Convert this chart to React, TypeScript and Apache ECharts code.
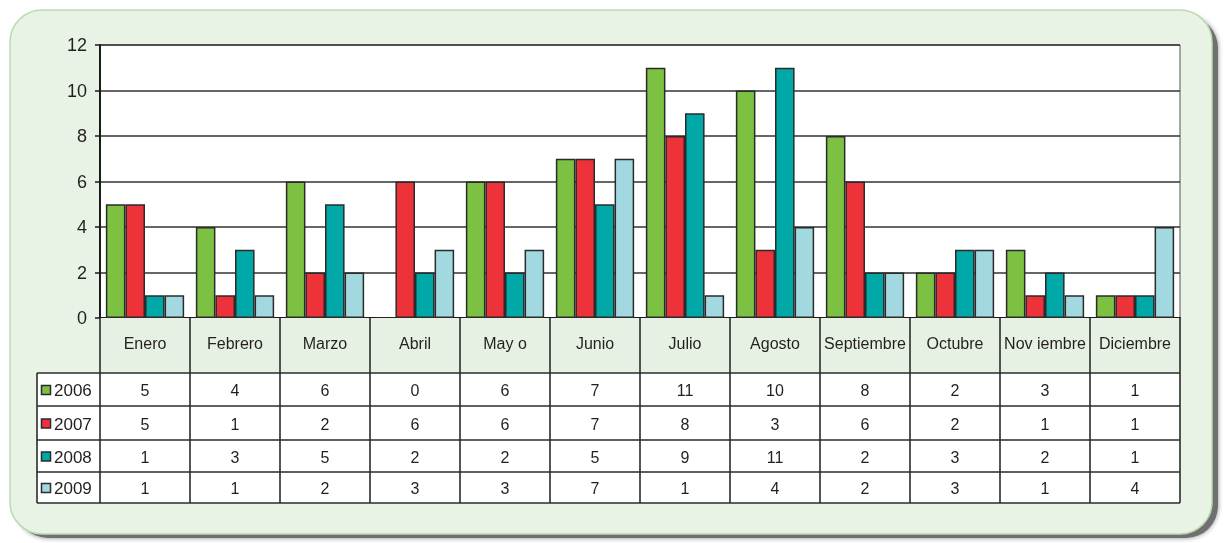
import React, { useEffect, useRef } from "react";
import * as echarts from "echarts";

const categories = ["Enero", "Febrero", "Marzo", "Abril", "May o", "Junio", "Julio", "Agosto", "Septiembre", "Octubre", "Nov iembre", "Diciembre"];
const seriesNames = ["2006", "2007", "2008", "2009"];
const v2006 = [5, 4, 6, 0, 6, 7, 11, 10, 8, 2, 3, 1];
const v2007 = [5, 1, 2, 6, 6, 7, 8, 3, 6, 2, 1, 1];
const v2008 = [1, 3, 5, 2, 2, 5, 9, 11, 2, 3, 2, 1];
const v2009 = [1, 1, 2, 3, 3, 7, 1, 4, 2, 3, 1, 4];
const yTicks = [0, 2, 4, 6, 8, 10, 12];
const colors = ["#7dc142", "#ee3239", "#00a9a7", "#a2d9e1"];

const FONT = "'Liberation Sans', Arial, sans-serif";
const TXT = "#231f20";

export default function App() {
  const ref = useRef<HTMLDivElement>(null);
  useEffect(() => {
    if (!ref.current) return;
    const chart = echarts.init(ref.current, undefined, { renderer: "svg" });
    const allVals = [v2006, v2007, v2008, v2009];
    const gl = 100, gt = 45, gw = 1080, gh = 273;
    const colW = gw / categories.length;
    const rowsY = [318, 373, 406, 440, 472, 503];
    const tableLeft = 37;
    const right = gl + gw;
    const lineStyle = { stroke: "#2b2b2b", lineWidth: 1.6 };
    const g: any[] = [];
    // panel shadow + panel
    g.push({ type: "rect", z: -20, silent: true, shape: { x: 16, y: 16, width: 1202, height: 522, r: 32 }, style: { fill: "#6f6f6f", shadowBlur: 5, shadowColor: "rgba(0,0,0,0.45)" } });
    g.push({ type: "rect", z: -10, silent: true, shape: { x: 10, y: 10, width: 1202, height: 524, r: 32 }, style: { fill: "#e8f2e5", stroke: "#b9dbb0", lineWidth: 1.5 } });
    // header row fill and data rows fill
    g.push({ type: "rect", z: 50, silent: true, shape: { x: gl, y: rowsY[0], width: gw, height: rowsY[1] - rowsY[0] }, style: { fill: "#e6f0e3" } });
    g.push({ type: "rect", z: 50, silent: true, shape: { x: tableLeft, y: rowsY[1], width: right - tableLeft, height: rowsY[5] - rowsY[1] }, style: { fill: "#ffffff" } });
    // horizontal lines
    for (let i = 1; i < rowsY.length; i++) {
      g.push({ type: "line", z: 60, silent: true, shape: { x1: tableLeft, y1: rowsY[i], x2: right, y2: rowsY[i] }, style: lineStyle });
    }
    // vertical lines
    g.push({ type: "line", z: 60, silent: true, shape: { x1: tableLeft, y1: rowsY[1], x2: tableLeft, y2: rowsY[5] }, style: lineStyle });
    for (let k = 0; k <= categories.length; k++) {
      const x = gl + colW * k;
      g.push({ type: "line", z: 60, silent: true, shape: { x1: x, y1: rowsY[0], x2: x, y2: rowsY[5] }, style: lineStyle });
    }
    // header labels
    categories.forEach((c, i) => {
      g.push({ type: "text", z: 70, silent: true, x: gl + colW * i + colW / 2, y: (rowsY[0] + rowsY[1]) / 2 - 2, style: { text: c, fill: TXT, font: `16px ${FONT}`, align: "center", verticalAlign: "middle" } });
    });
    // rows
    seriesNames.forEach((name, r) => {
      const cy = (rowsY[r + 1] + rowsY[r + 2]) / 2 + 1;
      g.push({ type: "rect", z: 70, silent: true, shape: { x: tableLeft + 4.5, y: cy - 5, width: 9, height: 9 }, style: { fill: colors[r], stroke: "#2b2b2b", lineWidth: 1.5 } });
      g.push({ type: "text", z: 70, silent: true, x: tableLeft + 17, y: cy, style: { text: name, fill: TXT, font: `17px ${FONT}`, align: "left", verticalAlign: "middle" } });
      allVals[r].forEach((v, i) => {
        g.push({ type: "text", z: 70, silent: true, x: gl + colW * i + colW / 2, y: cy, style: { text: String(v), fill: TXT, font: `16px ${FONT}`, align: "center", verticalAlign: "middle" } });
      });
    });

    chart.setOption({
      animation: false,
      textStyle: { fontFamily: FONT },
      grid: { left: gl, top: gt, width: gw, height: gh, show: true, backgroundColor: "#ffffff", borderColor: "#555", borderWidth: 1 },
      xAxis: {
        type: "category",
        data: categories,
        axisLine: { show: true, lineStyle: { color: "#1a1a1a", width: 2 } },
        axisTick: { show: false },
        axisLabel: { show: false },
        splitLine: { show: false },
      },
      yAxis: {
        type: "value",
        min: yTicks[0],
        max: yTicks[yTicks.length - 1],
        interval: 2,
        axisLine: { show: true, lineStyle: { color: "#1a1a1a", width: 2 } },
        axisTick: { show: true, length: 5, lineStyle: { color: "#1a1a1a", width: 1.5 } },
        axisLabel: { color: TXT, fontSize: 18, fontFamily: FONT, margin: 13 },
        splitLine: { show: true, lineStyle: { color: "#333", width: 1.5 } },
      },
      series: seriesNames.map((name, r) => ({
        type: "bar",
        name,
        data: allVals[r],
        barGap: "0%",
        barCategoryGap: "13%",
        itemStyle: { color: colors[r], borderColor: "#2b2b2b", borderWidth: 1.5 },
      })),
      graphic: g,
    });
    return () => chart.dispose();
  }, []);
  return <div ref={ref} style={{ position: "fixed", left: 0, top: 0, width: 1224, height: 543 }} />;
}
